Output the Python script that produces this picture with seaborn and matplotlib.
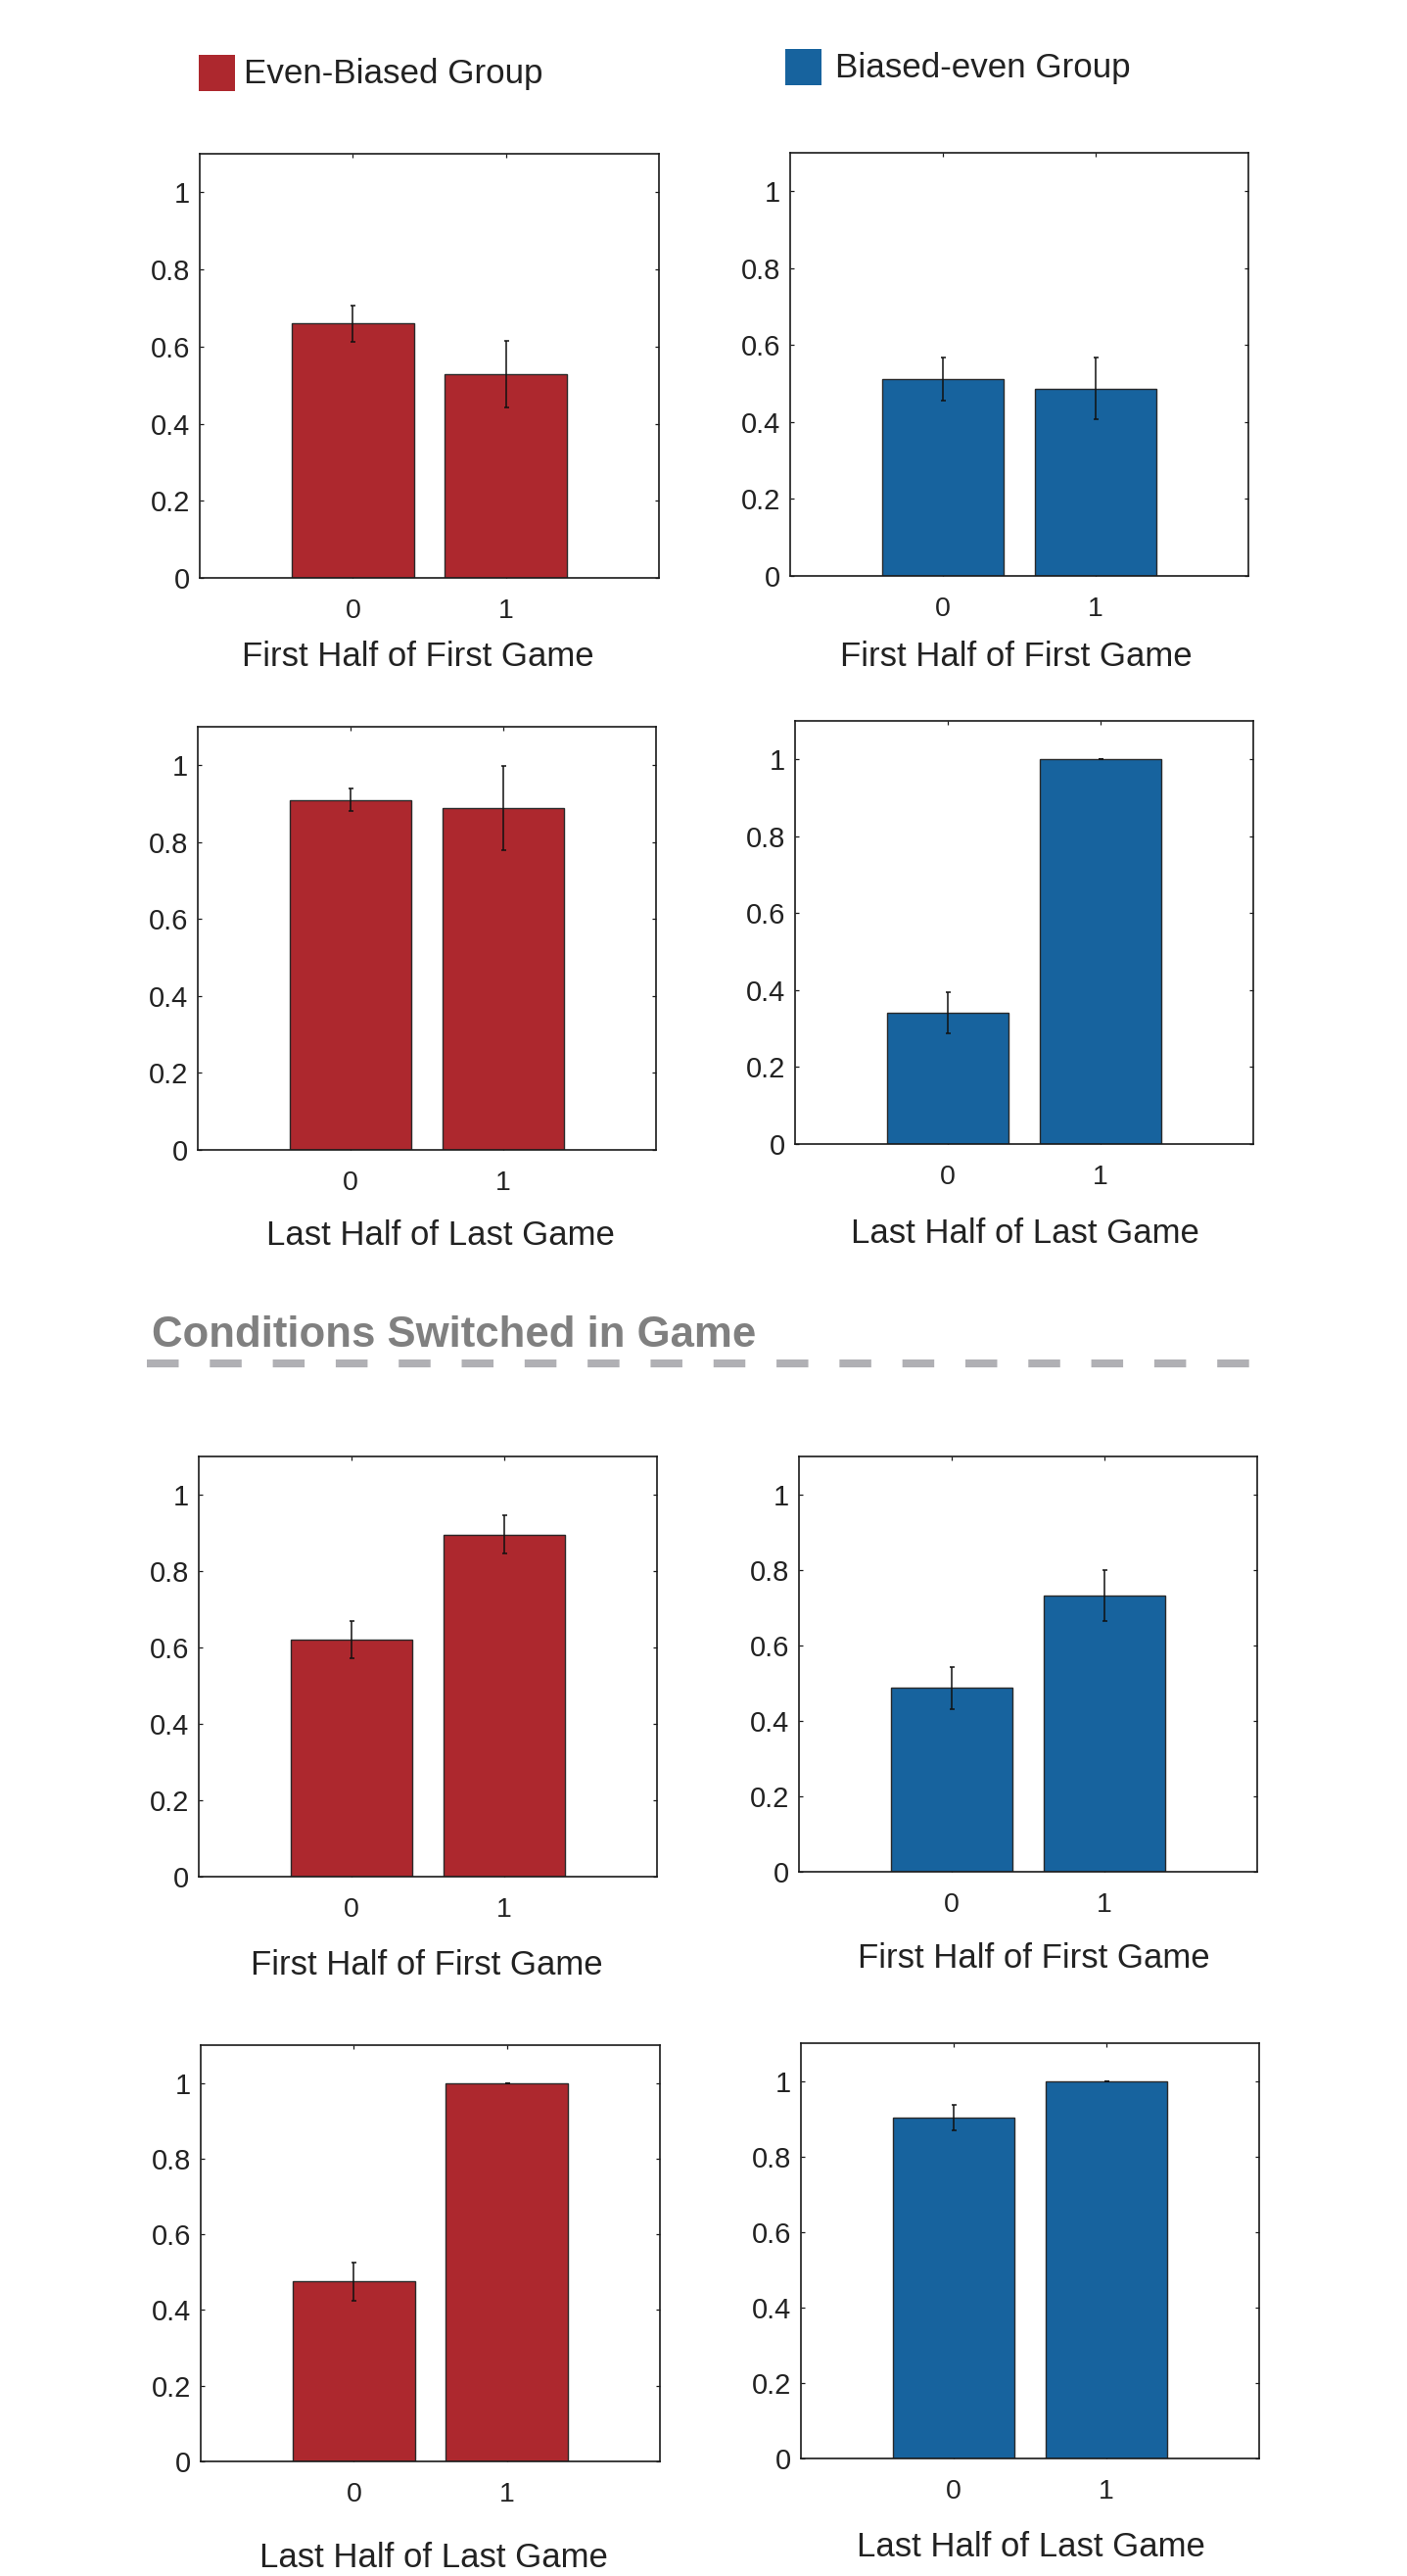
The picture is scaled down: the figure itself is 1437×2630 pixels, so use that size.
import matplotlib
matplotlib.use("Agg")
import matplotlib.pyplot as plt
import seaborn as sns
import pandas as pd

# ---- data -------------------------------------------------------------
conditions = ["0", "1"]
y_ticks = [0, 0.2, 0.4, 0.6, 0.8, 1.0]
y_tick_labels = ["0", "0.2", "0.4", "0.6", "0.8", "1"]

group_names = ["Even-Biased Group", "Biased-even Group"]
group_colors = ["#ad282e", "#17639e"]

section_title = "Conditions Switched in Game"
label_first = "First Half of First Game"
label_last = "Last Half of Last Game"

# same conditions throughout the game
eb_first_mean = [0.66, 0.528]
eb_first_err = [0.047, 0.086]
be_first_mean = [0.511, 0.487]
be_first_err = [0.056, 0.080]
eb_last_mean = [0.910, 0.889]
eb_last_err = [0.029, 0.110]
be_last_mean = [0.341, 1.0]
be_last_err = [0.053, 0.0]

# conditions switched in game
sw_eb_first_mean = [0.620, 0.895]
sw_eb_first_err = [0.048, 0.050]
sw_be_first_mean = [0.487, 0.732]
sw_be_first_err = [0.056, 0.068]
sw_eb_last_mean = [0.475, 1.0]
sw_eb_last_err = [0.050, 0.0]
sw_be_last_mean = [0.902, 1.0]
sw_be_last_err = [0.034, 0.0]

# ---- figure -----------------------------------------------------------
W, H = 1437, 2630
DPI = 100

sns.set_style("ticks")
plt.rcParams["font.family"] = ["Liberation Sans", "DejaVu Sans"]
plt.rcParams["lines.scale_dashes"] = False

fig = plt.figure(figsize=(W / DPI, H / DPI), dpi=DPI)
fig.patch.set_facecolor("white")

# (means, errors, group index, xlabel, box px (L, T, R, B), label centre x, label baseline y)
panels = [
    (eb_first_mean, eb_first_err, 0, label_first, (204, 157, 673, 590), 427, 680),
    (be_first_mean, be_first_err, 1, label_first, (807, 156, 1275, 588), 1038, 680),
    (eb_last_mean, eb_last_err, 0, label_last, (202, 742, 670, 1174), 450, 1271),
    (be_last_mean, be_last_err, 1, label_last, (812, 736, 1280, 1168), 1047, 1269),
    (sw_eb_first_mean, sw_eb_first_err, 0, label_first, (203, 1487, 671, 1916), 436, 2016),
    (sw_be_first_mean, sw_be_first_err, 1, label_first, (816, 1487, 1284, 1911), 1056, 2009),
    (sw_eb_last_mean, sw_eb_last_err, 0, label_last, (205, 2088, 674, 2513), 443, 2621),
    (sw_be_last_mean, sw_be_last_err, 1, label_last, (818, 2086, 1286, 2510), 1053, 2610),
]

for means, errs, g, xlab, (L, T, R, B), lx, ly in panels:
    ax = fig.add_axes([L / W, 1 - B / H, (R - L) / W, (B - T) / H])
    df = pd.DataFrame({"condition": conditions, "value": means})
    sns.barplot(data=df, x="condition", y="value", ax=ax, color=group_colors[g],
                saturation=1, width=0.8, edgecolor="#2a2a2a", linewidth=1.0,
                errorbar=None)
    ax.errorbar(x=range(len(conditions)), y=means, yerr=errs, fmt="none",
                ecolor="#111111", elinewidth=1.1, capsize=1.8, capthick=1.1,
                zorder=5)
    ax.set_xlim(-1, 2)
    ax.set_ylim(0, 1.1)
    ax.set_yticks(y_ticks)
    ax.set_yticklabels(y_tick_labels)
    ax.set_xlabel("")
    ax.set_ylabel("")
    for s in ax.spines.values():
        s.set_visible(True)
        s.set_linewidth(1.2)
        s.set_color("#1a1a1a")
    ax.tick_params(axis="both", direction="in", length=3, width=0.9,
                   top=True, right=True, colors="#1a1a1a")
    ax.tick_params(axis="y", labelsize=21, pad=7)
    ax.tick_params(axis="x", labelsize=20.5, pad=15)
    for t in ax.get_xticklabels() + ax.get_yticklabels():
        t.set_color("#222222")
    fig.text(lx / W, 1 - ly / H, xlab, ha="center", va="baseline",
             fontsize=25, color="#222222")

# ---- legend swatches --------------------------------------------------
def swatch(x0, y0, x1, y1, color):
    a = fig.add_axes([x0 / W, 1 - y1 / H, (x1 - x0) / W, (y1 - y0) / H])
    a.set_facecolor(color)
    a.set_xticks([])
    a.set_yticks([])
    for s in a.spines.values():
        s.set_visible(False)

swatch(203, 56, 240, 93, group_colors[0])
fig.text(249 / W, 1 - 85.5 / H, group_names[0], ha="left", va="baseline",
         fontsize=25.2, color="#222222")
swatch(802, 50, 839, 87, group_colors[1])
fig.text(853 / W, 1 - 78.5 / H, group_names[1], ha="left", va="baseline",
         fontsize=25.2, color="#222222")

# ---- section divider --------------------------------------------------
fig.text(155 / W, 1 - 1375 / H, section_title, ha="left", va="baseline",
         fontsize=31.5, fontweight="bold", color="#808080")
div = fig.add_axes([0, 0, 1, 1], facecolor="none")
div.set_xlim(0, W)
div.set_ylim(H, 0)
div.axis("off")
div.plot([150, 1277], [1392, 1392], color="#b0b0b4", linewidth=5.8,
         solid_capstyle="butt", dash_capstyle="butt",
         linestyle=(0, (23.4, 22.9)))

fig.savefig("out.png", dpi=DPI, facecolor="white")
